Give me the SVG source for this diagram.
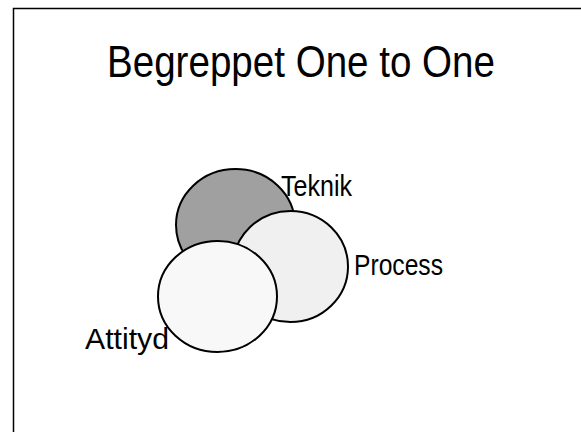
<svg xmlns="http://www.w3.org/2000/svg" width="581" height="432" viewBox="0 0 581 432">
<style>
.lbl{font-family:"Liberation Sans Narrow","Arial Narrow","Liberation Sans",Arial,sans-serif;fill:#000;font-size:30px;}
.title{font-size:45px;}
.ell{stroke:#000;stroke-width:2;}
</style>
<rect x="0" y="0" width="581" height="432" fill="#fff"/>
<rect x="13.5" y="8.5" width="620" height="480" fill="#fff" stroke="#000" stroke-width="1.5"/>
<text class="lbl title" x="107" y="77" textLength="388" lengthAdjust="spacingAndGlyphs">Begreppet One to One</text>
<g id="teknik">
<ellipse class="ell" cx="235.5" cy="225" rx="59.5" ry="56" fill="#a0a0a0"/>
</g>
<g id="process">
<ellipse class="ell" cx="290.5" cy="266.5" rx="57.5" ry="55.5" fill="#f0f0f0"/>
</g>
<g id="attityd">
<ellipse class="ell" cx="217.5" cy="296.5" rx="59.5" ry="55.5" fill="#f8f8f8"/>
</g>
<g id="labels">
<text class="lbl" x="281" y="196" textLength="71" lengthAdjust="spacingAndGlyphs">Teknik</text>
<text class="lbl" x="354" y="275" textLength="89" lengthAdjust="spacingAndGlyphs">Process</text>
<text class="lbl" x="85" y="349" textLength="84" lengthAdjust="spacingAndGlyphs">Attityd</text>
</g>
<g id="connectors"></g>
</svg>
